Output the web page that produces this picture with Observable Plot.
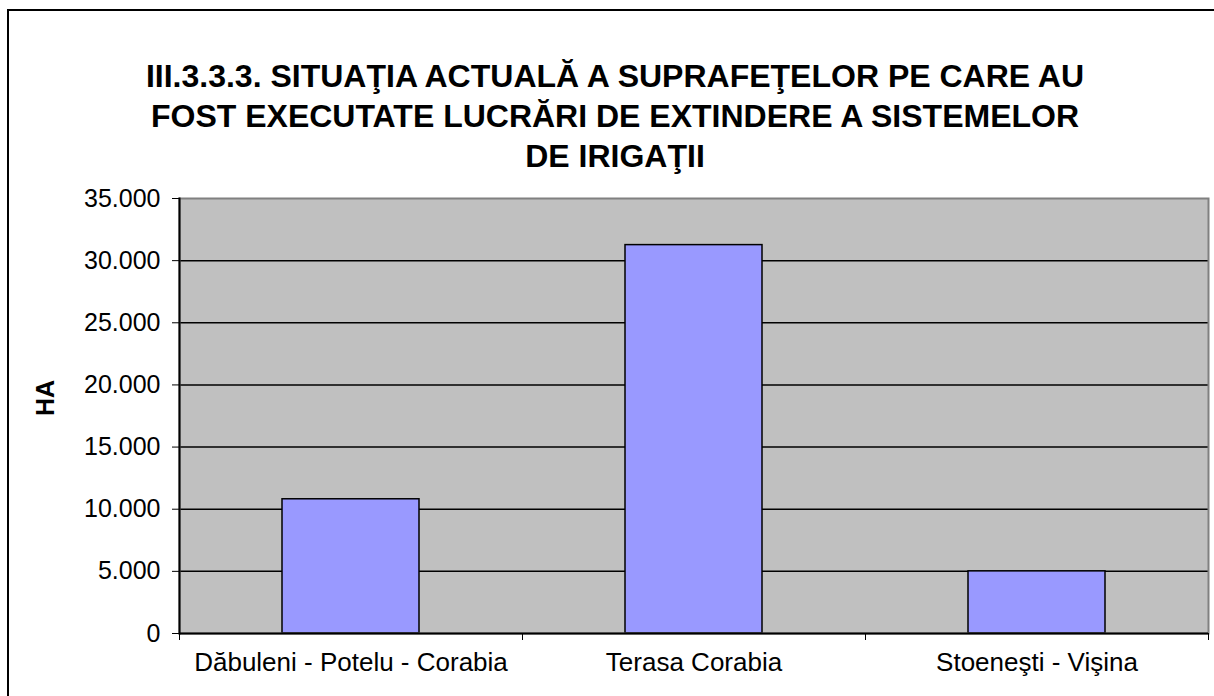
<!DOCTYPE html>
<html><head><meta charset="utf-8">
<script src="https://cdn.jsdelivr.net/npm/d3@7"></script>
<script src="https://cdn.jsdelivr.net/npm/@observablehq/plot@0.6"></script>
<style>
body{margin:0;background:#fff;}
#wrap{position:relative;width:1214px;height:696px;overflow:hidden;font-family:"Liberation Sans",Arial,sans-serif;color:#000;}
#frame{position:absolute;left:7px;top:9px;width:1300px;height:800px;border:2px solid #000;box-sizing:border-box;}
#title{position:absolute;left:0;top:56px;width:1230px;text-align:center;font-weight:bold;font-size:32px;line-height:40px;}
#chart{position:absolute;left:0;top:180px;}
</style></head>
<body>
<div id="wrap">
  <div id="frame"></div>
  <div id="title">III.3.3.3. SITUAŢIA ACTUALĂ A SUPRAFEŢELOR PE CARE AU<br>FOST EXECUTATE LUCRĂRI DE EXTINDERE A SISTEMELOR<br>DE IRIGAŢII</div>
  <div id="chart"></div>
</div>
<script>
const categories = ["Dăbuleni - Potelu - Corabia", "Terasa Corabia", "Stoeneşti - Vişina"];
const values = [10800, 31250, 5000];
const yTicks = [0, 5000, 10000, 15000, 20000, 25000, 30000, 35000];
const yLabel = "HA";

const data = categories.map((c, i) => ({category: c, value: values[i]}));
const fmt = d => d3.format(",")(d).replace(/,/g, ".");

const W = 1214, H = 516, mL = 179, mR = 6, mT = 18, mB = 63;
const half = (W - mL - mR) / categories.length / 2;

const chart = Plot.plot({
  width: W, height: H,
  marginTop: mT, marginBottom: mB, marginLeft: mL, marginRight: mR,
  style: {fontFamily: '"Liberation Sans", Arial, sans-serif', color: "#000", background: "transparent", overflow: "visible"},
  x: {domain: categories, paddingInner: 0.6, paddingOuter: 0.3, label: null},
  y: {domain: [0, 35000], label: null},
  marks: [
    Plot.frame({fill: "#c0c0c0", stroke: "none"}),
    Plot.gridY(yTicks.slice(1, -1), {stroke: "#000", strokeOpacity: 1, strokeWidth: 1.5}),
    Plot.barY(data, {x: "category", y: "value", fill: "#9999ff", stroke: "#000", strokeWidth: 1.5}),
    Plot.frame({stroke: "#808080", strokeWidth: 2}),
    Plot.frame({anchor: "left", stroke: "#000", strokeWidth: 2}),
    Plot.ruleY([0], {stroke: "#000", strokeWidth: 2}),
    Plot.axisY(yTicks, {tickSize: 7, tickPadding: 12, fontSize: 25, tickFormat: fmt, label: null}),
    Plot.axisX(categories, {tickSize: 0, tickPadding: 19, fontSize: 26, label: null}),
    Plot.axisX(categories, {tickSize: 7, dx: -half, tickFormat: () => "", label: null}),
    Plot.axisX([categories[categories.length - 1]], {tickSize: 7, dx: half, tickFormat: () => "", label: null}),
    Plot.text([yLabel], {text: d => d, frameAnchor: "left", dx: -134, rotate: -90, fontWeight: "bold", fontSize: 25})
  ]
});
document.getElementById("chart").appendChild(chart);
</script>
</body></html>
